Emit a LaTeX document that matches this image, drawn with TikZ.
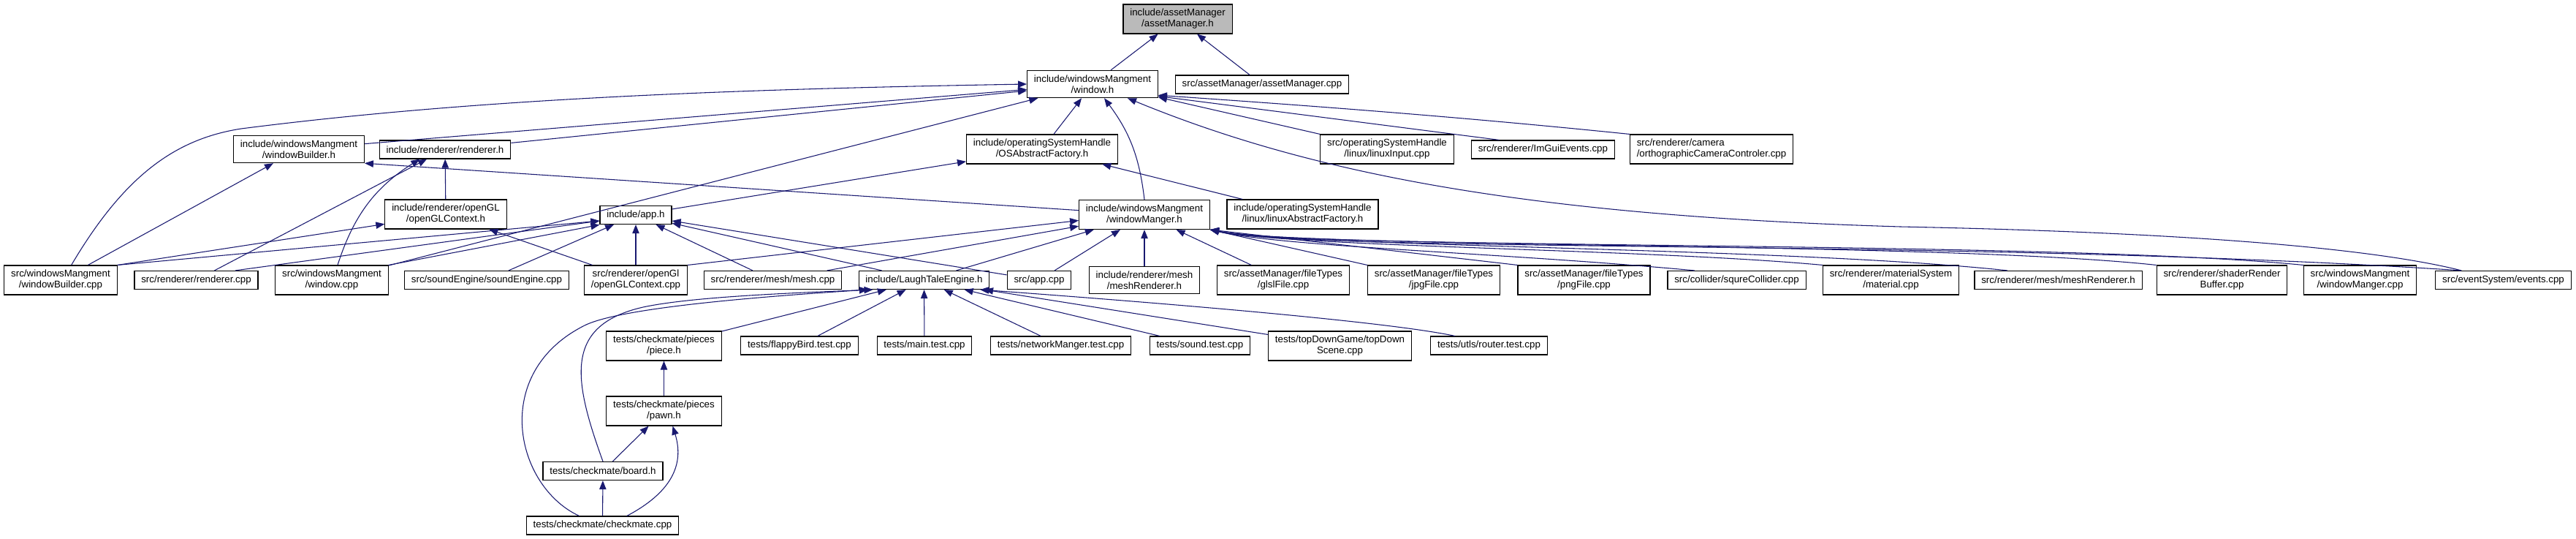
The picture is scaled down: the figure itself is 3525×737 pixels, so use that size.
\documentclass[tikz,border=0pt]{standalone}
\usepackage{fontspec}
\setmainfont{Liberation Sans}
\usetikzlibrary{arrows.meta}

\definecolor{edgeblue}{HTML}{191970}

\begin{document}
\begin{tikzpicture}[x=0.75pt, y=-0.75pt]
  % Define styles
  \tikzstyle{file} = [rectangle, draw, line width=0.85pt, align=center, font=\fontsize{10pt}{11.25pt}\selectfont, inner xsep=7pt, inner ysep=4.7pt, minimum height=18.75pt]
  \tikzstyle{root} = [file, fill=black!27]
  \tikzstyle{line} = [draw, edgeblue, line width=0.8pt, -{Triangle[length=9pt, width=7pt]}]

  \useasboundingbox (0,0) rectangle (3525,737);

  % Place nodes
  \node [root] (assetH) at (1611.5,26) {include/assetManager\\/assetManager.h};

  \node [file] (windowH) at (1495,115) {include/windowsMangment\\/window.h};
  \node [file] (assetCpp) at (1727,115.5) {src/assetManager/assetManager.cpp};

  \node [file] (wbuilderH) at (409,204) {include/windowsMangment\\/windowBuilder.h};
  \node [file] (rendererH) at (609,204.5) {include/renderer/renderer.h};
  \node [file] (osFactoryH) at (1426,204) {include/operatingSystemHandle\\/OSAbstractFactory.h};
  \node [file] (linuxInputCpp) at (1898,204) {src/operatingSystemHandle\\/linux/linuxInput.cpp};
  \node [file] (imguiCpp) at (2111.5,204.5) {src/renderer/ImGuiEvents.cpp};
  \node [file, align=left] (orthoCpp) at (2342,204) {src/renderer/camera\\/orthographicCameraControler.cpp};

  \node [file] (openglH) at (610,293) {include/renderer/openGL\\/openGLContext.h};
  \node [file] (appH) at (870,294) {include/app.h};
  \node [file] (wmanagerH) at (1566,293.5) {include/windowsMangment\\/windowManger.h};
  \node [file] (linuxFactoryH) at (1782.5,293) {include/operatingSystemHandle\\/linux/linuxAbstractFactory.h};

  \node [file] (wbuilderCpp) at (83,383) {src/windowsMangment\\/windowBuilder.cpp};
  \node [file] (rendererCpp) at (268.5,383) {src/renderer/renderer.cpp};
  \node [file] (windowCpp) at (454,383) {src/windowsMangment\\/window.cpp};
  \node [file] (soundEngineCpp) at (666,383) {src/soundEngine/soundEngine.cpp};
  \node [file] (openglCpp) at (870,383) {src/renderer/openGl\\/openGLContext.cpp};
  \node [file] (meshCpp) at (1057.5,383) {src/renderer/mesh/mesh.cpp};
  \node [file] (lteH) at (1264.5,383) {include/LaughTaleEngine.h};
  \node [file] (appCpp) at (1422,383) {src/app.cpp};
  \node [file] (meshRendH) at (1566,383) {include/renderer/mesh\\/meshRenderer.h};
  \node [file] (glslCpp) at (1756,383) {src/assetManager/fileTypes\\/glslFile.cpp};
  \node [file] (jpgCpp) at (1962,383) {src/assetManager/fileTypes\\/jpgFile.cpp};
  \node [file] (pngCpp) at (2167.5,383) {src/assetManager/fileTypes\\/pngFile.cpp};
  \node [file] (colliderCpp) at (2376.5,383) {src/collider/squreCollider.cpp};
  \node [file] (materialCpp) at (2587.5,383) {src/renderer/materialSystem\\/material.cpp};
  \node [file] (meshRendCpp) at (2816.5,383) {src/renderer/mesh/meshRenderer.h};
  \node [file] (shaderBufCpp) at (3040.5,383) {src/renderer/shaderRender\\Buffer.cpp};
  \node [file] (wmanagerCpp) at (3229.5,383) {src/windowsMangment\\/windowManger.cpp};
  \node [file] (eventsCpp) at (3425.5,383) {src/eventSystem/events.cpp};

  \node [file] (pieceH) at (908.5,473) {tests/checkmate/pieces\\/piece.h};
  \node [file] (flappyCpp) at (1094,472.5) {tests/flappyBird.test.cpp};
  \node [file] (mainTestCpp) at (1265,472.5) {tests/main.test.cpp};
  \node [file] (netTestCpp) at (1451.5,472.5) {tests/networkManger.test.cpp};
  \node [file] (soundTestCpp) at (1642,472.5) {tests/sound.test.cpp};
  \node [file] (topDownCpp) at (1833.5,473) {tests/topDownGame/topDown\\Scene.cpp};
  \node [file] (routerCpp) at (2037.5,472.5) {tests/utls/router.test.cpp};

  \node [file] (pawnH) at (908.5,562) {tests/checkmate/pieces\\/pawn.h};
  \node [file] (boardH) at (825,644) {tests/checkmate/board.h};
  \node [file] (checkmateCpp) at (824.5,718.5) {tests/checkmate/checkmate.cpp};

  % Draw edges
  \path [line] (windowH) -- (assetH);
  \path [line] (assetCpp) -- (assetH);

  \path [line] (wbuilderH) -- (windowH);
  \path [line] (rendererH) -- (windowH);
  \path [line] (osFactoryH) -- (windowH);
  \path [line] (wmanagerH.north) to[bend right=15] ([xshift=12pt]windowH.south);
  \path [line] ([xshift=11pt]wbuilderCpp.north) .. controls (170,240) and (240,190) .. (330,176) .. controls (650,135) and (1000,122) .. (windowH.west);
  \path [line] (windowCpp) -- (windowH);
  \path [line] (linuxInputCpp.north west) -- ([yshift=1pt]windowH.south east);
  \path [line] ([xshift=-45pt]imguiCpp.north) -- ([yshift=2pt]windowH.south east);
  \path [line] (orthoCpp.north west) .. controls (2000,160) and (1800,145) .. ([yshift=3pt]windowH.south east);
  \path [line] ([xshift=-43pt]eventsCpp.north) .. controls (3250,340) and (3000,318) .. (2600,310) .. controls (2100,295) and (1800,240) .. ([xshift=36pt]windowH.south);

  \path [line] (wbuilderCpp) -- (wbuilderH);
  \path [line] (wmanagerH) -- (wbuilderH.south east);

  \path [line] (openglH) -- (rendererH);
  \path [line] (rendererCpp) -- (rendererH);
  \path [line] ([xshift=6pt]windowCpp.north) to[bend left=20] ([xshift=-26pt]rendererH.south);

  \path [line] (appH) -- (osFactoryH);
  \path [line] (linuxFactoryH) -- (osFactoryH);

  \path [line] (wbuilderCpp.north east) -- ([yshift=-10pt]openglH.west);
  \path [line] (openglCpp) -- (openglH);

  \path [line] (wbuilderCpp.north east) -- ([yshift=-6pt]appH.west);
  \path [line] ([xshift=40pt]rendererCpp.north) -- ([yshift=-6pt]appH.west);
  \path [line] (windowCpp.north east) -- ([yshift=-10pt]appH.west);
  \path [line] (soundEngineCpp) -- (appH);
  \path [line] (openglCpp) -- (appH);
  \path [line] (meshCpp) -- (appH);
  \path [line] (lteH) -- (appH);
  \path [line] (appCpp) -- (appH);

  \path [line] (openglCpp.north east) -- ([yshift=-6pt]wmanagerH.west);
  \path [line] (meshCpp) -- (wmanagerH);
  \path [line] (lteH) -- (wmanagerH);
  \path [line] (appCpp) -- (wmanagerH);
  \path [line] (meshRendH) -- (wmanagerH);
  \path [line] (glslCpp) -- (wmanagerH);
  \path [line] (jpgCpp.north west) -- (wmanagerH.south east);
  \path [line] (pngCpp.north west) -- (wmanagerH.south east);
  \path [line] ([xshift=28pt]colliderCpp.north west) .. controls (2050,345) and (1760,338) .. (wmanagerH.south east);
  \path [line] (materialCpp.north west) .. controls (2250,340) and (1770,338) .. (wmanagerH.south east);
  \path [line] ([xshift=34pt]meshRendCpp.north west) .. controls (2450,338) and (1780,338) .. (wmanagerH.south east);
  \path [line] (shaderBufCpp.north west) .. controls (2650,330) and (1790,340) .. (wmanagerH.south east);
  \path [line] (wmanagerCpp.north west) .. controls (2800,328) and (1800,342) .. (wmanagerH.south east);
  \path [line] ([xshift=-43pt]eventsCpp.north) .. controls (2700,326) and (1802,346) .. (wmanagerH.south east);

  \path [line] (pieceH) -- (lteH);
  \path [line] (flappyCpp) -- (lteH);
  \path [line] (mainTestCpp) -- (lteH);
  \path [line] (netTestCpp) -- (lteH);
  \path [line] (soundTestCpp) -- (lteH);
  \path [line] (topDownCpp) -- (lteH);
  \path [line] ([xshift=-35pt]routerCpp.north) .. controls (1900,440) and (1600,415) .. ([xshift=-10pt]lteH.south east);
  \path [line] (boardH.north) .. controls (785,520) and (770,445) .. (880,420) .. controls (950,405) and (1100,400) .. ([xshift=15pt]lteH.south west);
  \path [line] ([xshift=-24pt]checkmateCpp.north) .. controls (705,665) and (670,510) .. (800,445) .. controls (850,420) and (1050,405) .. ([xshift=10pt]lteH.south west);

  \path [line] (pawnH) -- (pieceH);
  \path [line] (boardH) -- (pawnH);
  \path [line] ([xshift=25pt]checkmateCpp.north) .. controls (925,670) and (935,630) .. ([xshift=9pt]pawnH.south);
  \path [line] (checkmateCpp) -- (boardH);
\end{tikzpicture}
\end{document}
